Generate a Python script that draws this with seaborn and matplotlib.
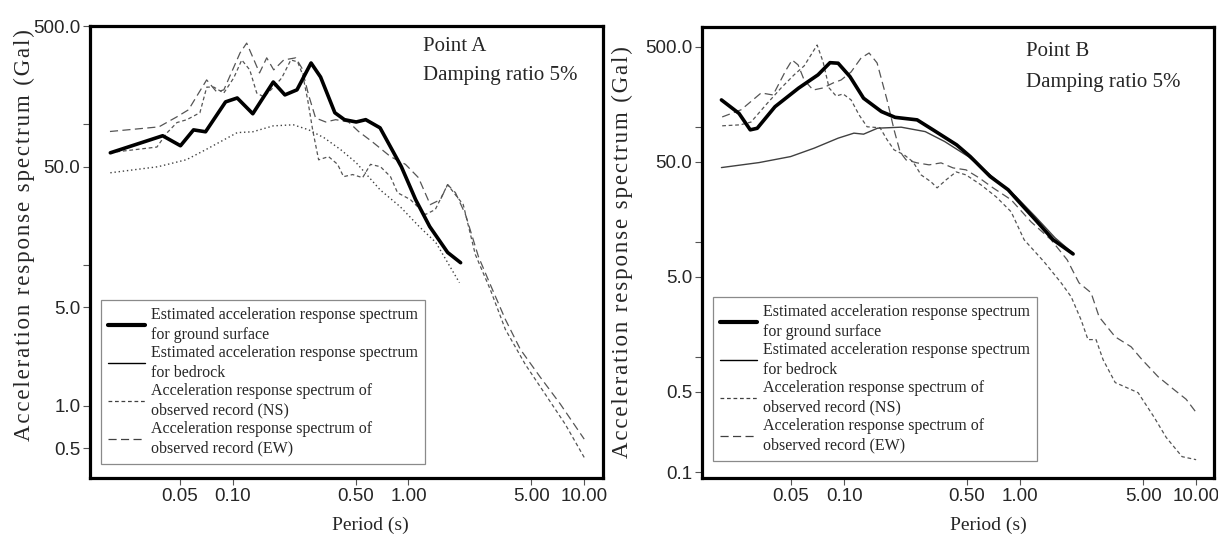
import pandas as pd
import seaborn as sns
import matplotlib.pyplot as plt
from matplotlib.lines import Line2D
from matplotlib.ticker import NullLocator

# ---- Point A ----
a_surface_t = [0.0201, 0.0399, 0.0504, 0.0598, 0.070, 0.091, 0.106, 0.130, 0.170, 0.198, 0.232, 0.279,
               0.316, 0.381, 0.432, 0.504, 0.571, 0.689, 0.911, 1.098, 1.32, 1.67, 1.98]
a_surface_v = [62.8, 83, 70.5, 91.4, 88.6, 144.5, 154, 119, 200, 162, 176, 273,
               217, 121, 108, 104, 108, 94.5, 50, 29.2, 18.8, 12.3, 10.4]

a_bedrock_t = [0.0201, 0.0375, 0.0545, 0.070, 0.106, 0.130, 0.170, 0.221, 0.271, 0.331, 0.412, 0.504,
               0.689, 0.897, 1.15, 1.43, 1.95]
a_bedrock_v = [45.3, 50, 56.1, 66, 87.4, 88.6, 97.6, 99.3, 91.4, 80.3, 66, 53.4,
               34.3, 26, 18.8, 14.5, 7.5]

a_ns_t = [0.020, 0.037, 0.0422, 0.0481, 0.0548, 0.065, 0.0711, 0.078, 0.0889, 0.1013, 0.1125, 0.1249,
          0.1369, 0.150, 0.171, 0.190, 0.214, 0.234, 0.250, 0.267, 0.285, 0.308, 0.351, 0.395, 0.427,
          0.481, 0.548, 0.608, 0.693, 0.790, 0.866, 1.026, 1.25, 1.42, 1.67, 1.85, 2.05, 2.40, 2.92,
          3.56, 4.62, 6.00, 7.80, 10.0]
a_ns_v = [63, 69, 87, 103, 108, 121, 184, 184, 167, 214, 287, 244,
          167, 157, 184, 214, 287, 278, 225, 149, 91, 56, 59, 52, 42.5,
          44, 41.8, 52, 50, 42.5, 32.7, 29.2, 22.9, 24.8, 37.3, 31.6, 26.9, 11.9, 6.71,
          3.49, 1.97, 1.21, 0.74, 0.43]

a_ew_t = [0.020, 0.038, 0.048, 0.056, 0.071, 0.081, 0.089, 0.110, 0.120, 0.132, 0.142, 0.156,
          0.171, 0.195, 0.228, 0.247, 0.270, 0.296, 0.338, 0.385, 0.456, 0.520, 0.624, 0.790,
          0.961, 1.14, 1.33, 1.52, 1.67, 1.85, 2.11, 2.50, 2.92, 3.56, 4.33, 5.62, 7.31, 10.0]
a_ew_v = [89, 96, 113, 127, 207, 170, 176, 322, 378, 287, 232, 297,
          244, 287, 297, 252, 162, 111, 104, 108, 104, 89, 75, 59,
          52, 41.8, 26.9, 29.2, 37.3, 32.7, 22.9, 11.5, 7.28, 4.11, 2.52, 1.60, 1.03, 0.58]

# ---- Point B ----
b_surface_t = [0.0201, 0.0253, 0.0293, 0.0321, 0.0405, 0.0551, 0.0711, 0.0832, 0.0925, 0.108, 0.129,
               0.163, 0.195, 0.260, 0.320, 0.436, 0.521, 0.676, 0.855, 1.0, 1.22, 1.54, 2.0]
b_surface_v = [173, 132, 95, 98, 151, 219, 286, 365, 361, 276, 179,
               137, 122, 116, 95, 70.3, 55.6, 37.3, 28.6, 21.9, 15.7, 10.5, 7.9]

b_bedrock_t = [0.0201, 0.0329, 0.0497, 0.0676, 0.0925, 0.1137, 0.129, 0.155, 0.211, 0.289, 0.373,
               0.508, 0.693, 0.946, 1.22, 1.58, 2.0]
b_bedrock_v = [44.6, 49.3, 55.6, 65.8, 80.4, 88.9, 87.1, 98.2, 100.2, 91.7, 75.1,
               55.6, 37.3, 25, 16.7, 10.9, 8.0]

b_ns_t = [0.0203, 0.0257, 0.0296, 0.036, 0.0439, 0.052, 0.0593, 0.0703, 0.076, 0.0822, 0.0901,
          0.0987, 0.1096, 0.1217, 0.1351, 0.1601, 0.1754, 0.1923, 0.2193, 0.2465, 0.2738, 0.312,
          0.3376, 0.38, 0.433, 0.493, 0.600, 0.731, 0.889, 1.054, 1.368, 1.71, 1.95, 2.22, 2.43,
          2.70, 2.96, 3.47, 4.06, 4.68, 5.77, 6.76, 8.32, 10.0]
b_ns_v = [103, 105, 111, 157, 220, 286, 342, 520, 370, 220, 187,
          195, 173, 128, 101, 99, 78, 63.6, 57.6, 50, 38.5, 33.5,
          29.7, 34.9, 40.9, 38.5, 31.5, 24.8, 18.4, 10.5, 6.75, 4.43, 3.35, 2.11, 1.42,
          1.42, 0.95, 0.60, 0.54, 0.49, 0.30, 0.20, 0.136, 0.128]

b_ew_t = [0.0203, 0.026, 0.0338, 0.0395, 0.0468, 0.0507, 0.0548, 0.0593, 0.0667, 0.076, 0.0866,
          0.0962, 0.1096, 0.1249, 0.1387, 0.154, 0.1754, 0.1923, 0.208, 0.225, 0.26, 0.304, 0.3556,
          0.416, 0.493, 0.585, 0.702, 0.889, 1.155, 1.50, 1.85, 2.16, 2.53, 2.81, 3.47, 4.27, 4.93,
          6.08, 7.50, 8.77, 10.0]
b_ew_v = [123, 142, 199, 191, 315, 385, 349, 258, 211, 220, 243,
          258, 303, 401, 443, 363, 173, 95, 61.1, 52, 49, 47.1, 49,
          44.3, 42.6, 36.3, 29.7, 23.4, 15.0, 10.5, 7.03, 4.43, 3.63, 2.24, 1.50, 1.23, 0.95,
          0.675, 0.52, 0.43, 0.33]

x_ticks = [0.05, 0.1, 0.5, 1, 5, 10]
x_labels = ["0.05", "0.10", "0.50", "1.00", "5.00", "10.00"]
a_yticks = [0.5, 1, 5, 10, 50, 100, 500]
a_ylabels = ["0.5", "1.0", "5.0", "", "50.0", "", "500.0"]
b_yticks = [0.1, 0.5, 1, 5, 10, 50, 100, 500]
b_ylabels = ["0.1", "0.5", "", "5.0", "", "50.0", "", "500.0"]

legend_labels = [
    "Estimated acceleration response spectrum\nfor ground surface",
    "Estimated acceleration response spectrum\nfor bedrock",
    "Acceleration response spectrum of\nobserved record (NS)",
    "Acceleration response spectrum of\nobserved record (EW)",
]
y_title = "Acceleration response spectrum (Gal)"

sns.set_style("ticks")
plt.rcParams['font.family'] = ['Liberation Serif', 'DejaVu Serif']
tick_font = ['Liberation Sans Narrow', 'Liberation Sans', 'DejaVu Sans']

NS_STYLE = (0, (3.0, 2.2))
EW_STYLE = (0, (6.5, 3.5))

fig = plt.figure(figsize=(12.18, 5.42), dpi=100)
ax_a = fig.add_axes([0.0739, 0.1181, 0.4212, 0.8339])
ax_b = fig.add_axes([0.5764, 0.1181, 0.4204, 0.8321])


def draw_panel(ax, surf, bed, ns, ew, bed_style):
    sns.lineplot(x=ns[0], y=ns[1], ax=ax, color="#555555", linewidth=0.9,
                 linestyle=NS_STYLE, sort=False, errorbar=None)
    sns.lineplot(x=ew[0], y=ew[1], ax=ax, color="#555555", linewidth=0.9,
                 linestyle=EW_STYLE, sort=False, errorbar=None)
    sns.lineplot(x=bed[0], y=bed[1], ax=ax, color="#404040", linewidth=1.0,
                 linestyle=bed_style, sort=False, errorbar=None)
    sns.lineplot(x=surf[0], y=surf[1], ax=ax, color="black", linewidth=2.6,
                 sort=False, errorbar=None)


draw_panel(ax_a, (a_surface_t, a_surface_v), (a_bedrock_t, a_bedrock_v),
           (a_ns_t, a_ns_v), (a_ew_t, a_ew_v), (0, (1.0, 2.0)))
draw_panel(ax_b, (b_surface_t, b_surface_v), (b_bedrock_t, b_bedrock_v),
           (b_ns_t, b_ns_v), (b_ew_t, b_ew_v), "-")

handles = [
    Line2D([], [], color="black", linewidth=3.0),
    Line2D([], [], color="black", linewidth=1.0),
    Line2D([], [], color="#404040", linewidth=0.9, linestyle=NS_STYLE),
    Line2D([], [], color="#404040", linewidth=0.9, linestyle=EW_STYLE),
]

panels = [
    (ax_a, (0.307, 500), a_yticks, a_ylabels, (0.0154, 12.8), "Point A",
     (0.649, 0.975), (0.649, 0.912), (0.021, 0.031), (-0.107, 0.537), (0.546, -0.085)),
    (ax_b, (0.0887, 746), b_yticks, b_ylabels, (0.0156, 12.65), "Point B",
     (0.633, 0.967), (0.633, 0.897), (0.021, 0.038), (-0.135, 0.50), (0.559, -0.085)),
]

# letter-spaced axis title, as in the original figure
spaced_title = "\u200a".join(y_title)

for ax, ylim, yt, yl, xlim, name, p1, p2, leg_pos, ylab_pos, xlab_pos in panels:
    ax.set_xscale("log")
    ax.set_yscale("log")
    ax.set_xlim(*xlim)
    ax.set_ylim(*ylim)
    ax.set_xticks(x_ticks)
    ax.set_xticklabels(x_labels)
    ax.set_yticks(yt)
    ax.set_yticklabels(yl)
    ax.xaxis.set_minor_locator(NullLocator())
    ax.yaxis.set_minor_locator(NullLocator())
    ax.tick_params(axis="both", which="major", direction="out", length=5, width=0.8,
                   color="#555555", labelsize=13.5, pad=2)
    for lbl in ax.get_xticklabels() + ax.get_yticklabels():
        lbl.set_fontfamily(tick_font)
    for side in ["left", "right", "top", "bottom"]:
        ax.spines[side].set_visible(True)
        ax.spines[side].set_linewidth(2.3)
        ax.spines[side].set_color("black")

    ax.set_xlabel("Period (s)", fontsize=14)
    ax.set_ylabel(spaced_title, fontsize=16.5)
    ax.xaxis.set_label_coords(*xlab_pos)
    ax.yaxis.set_label_coords(*ylab_pos)

    ax.text(p1[0], p1[1], name, transform=ax.transAxes, fontsize=15, va="top", ha="left")
    ax.text(p2[0], p2[1], "Damping ratio 5%", transform=ax.transAxes, fontsize=15,
            va="top", ha="left")

    leg = ax.legend(handles, legend_labels, loc="lower left", bbox_to_anchor=leg_pos,
                    borderaxespad=0, fontsize=11.5, frameon=True, fancybox=False,
                    framealpha=1, handlelength=2.3, handletextpad=0.4,
                    labelspacing=0.15, borderpad=0.45)
    leg.get_frame().set_edgecolor("#8a8a8a")
    leg.get_frame().set_linewidth(0.9)
    for t in leg.get_texts():
        t.set_linespacing(1.3)

fig.savefig("out.png", dpi=100)
